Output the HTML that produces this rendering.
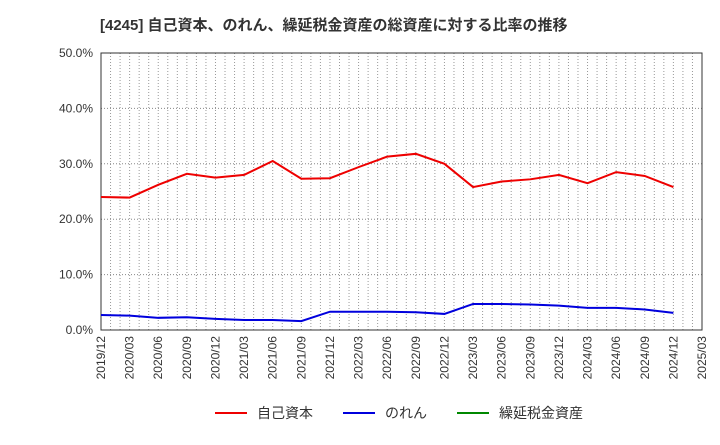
<!DOCTYPE html>
<html><head><meta charset="utf-8"><style>
body{margin:0;background:#fff;}
svg text{font-family:"Liberation Sans","Noto Sans CJK JP",sans-serif;}
</style></head><body>
<svg id="c" width="720" height="440" xmlns="http://www.w3.org/2000/svg">
<text x="100" y="30" font-size="15" font-weight="bold" fill="#333">[4245]  自己資本、のれん、繰延税金資産の総資産に対する比率の推移</text>
<g id="grid"></g><g id="axes"></g><g id="series"></g>
<g>
<g><line x1="215" y1="413" x2="247" y2="413" stroke="#e00" stroke-width="2"/><text x="257" y="418" font-size="14" fill="#333">自己資本</text></g>
<g><line x1="343" y1="413" x2="375" y2="413" stroke="#00d" stroke-width="2"/><text x="385" y="418" font-size="14" fill="#333">のれん</text></g>
<g><line x1="457" y1="413" x2="489" y2="413" stroke="#080" stroke-width="2"/><text x="499" y="418" font-size="14" fill="#333">繰延税金資産</text></g>
</g>
</svg>
<script>
const xLabels=["2019/12","2020/03","2020/06","2020/09","2020/12","2021/03","2021/06","2021/09","2021/12","2022/03","2022/06","2022/09","2022/12","2023/03","2023/06","2023/09","2023/12","2024/03","2024/06","2024/09","2024/12","2025/03"];
const yTicks=[0,10,20,30,40,50];
const equity=[24.0,23.9,26.2,28.2,27.5,28.0,30.5,27.3,27.4,29.4,31.3,31.8,30.0,25.8,26.8,27.2,28.0,26.5,28.5,27.8,25.8];
const goodwill=[2.7,2.6,2.2,2.3,2.0,1.8,1.8,1.6,3.3,3.3,3.3,3.2,2.9,4.7,4.7,4.6,4.4,4.0,4.0,3.7,3.1];
const L=101,R=702,T=53,B=330,NS="http://www.w3.org/2000/svg";
const X=i=>L+(R-L)*i/(xLabels.length-1);
const Y=v=>B-(B-T)*v/50;
function mk(p,t,a){const e=document.createElementNS(NS,t);for(const k in a)e.setAttribute(k,a[k]);p.appendChild(e);return e;}
const grid=document.getElementById('grid'),axes=document.getElementById('axes'),ser=document.getElementById('series');
for(let m=1;m<(xLabels.length-1)*3;m++){const x=L+(R-L)*m/((xLabels.length-1)*3);
const g=mk(grid,'line',{x1:x,x2:x,y1:T,y2:B,stroke:'#999','stroke-width':1,'stroke-dasharray':'1,2'});

}
yTicks.forEach(v=>{const y=Y(v);
if(v>0&&v<50){const g=mk(grid,'line',{x1:L,x2:R,y1:y,y2:y,stroke:'#888','stroke-width':1,'stroke-dasharray':'1,2'});

}
const t=mk(axes,'text',{x:L-8,y:y+4,'font-size':12,'text-anchor':'end',fill:'#333'});t.textContent=v.toFixed(1)+'%';

});
const f=mk(axes,'rect',{x:L,y:T,width:R-L,height:B-T,fill:'none',stroke:'#333','stroke-width':1});


xLabels.forEach((s,i)=>{const x=X(i);
const t=mk(axes,'text',{x:0,y:0,'font-size':12,'text-anchor':'end',fill:'#333',transform:`translate(${x+4},${B+6}) rotate(-90)`});t.textContent=s;

});
function line(d,c,n){const p=mk(ser,'polyline',{points:d.map((v,i)=>X(i)+','+Y(v)).join(' '),fill:'none',stroke:c,'stroke-width':2});

}
line(equity,'#e00','equity-ratio-line');
line(goodwill,'#00d','goodwill-ratio-line');
</script>
</body></html>
